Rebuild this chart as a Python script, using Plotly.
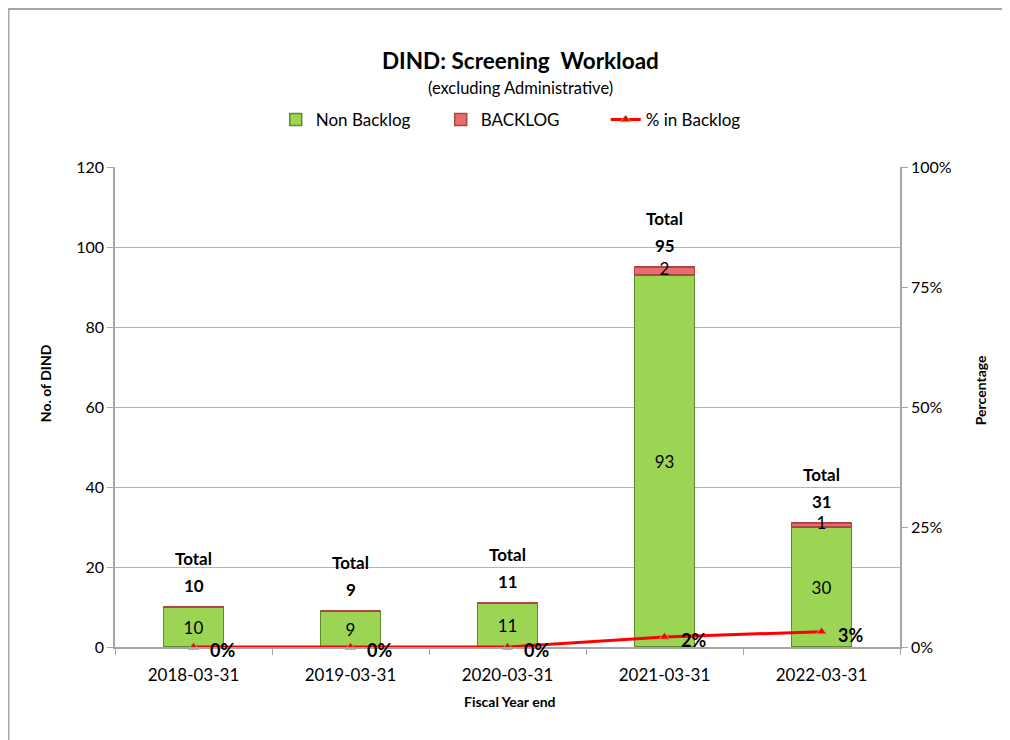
import plotly.graph_objects as go

years = ["2018-03-31", "2019-03-31", "2020-03-31", "2021-03-31", "2022-03-31"]
non_backlog = [10, 9, 11, 93, 30]
backlog = [0, 0, 0, 2, 1]
pct_backlog = [0.0, 0.0, 0.0, 2.1, 3.2]
pct_labels = ["0%", "0%", "0%", "2%", "3%"]

totals = [a + b for a, b in zip(non_backlog, backlog)]
backlog_mid = [n + b / 2.0 for n, b in zip(non_backlog, backlog)]

font_name = "Lato, Open Sans, sans-serif"

fig = go.Figure()

fig.add_trace(go.Bar(
    x=years, y=non_backlog, name="Non Backlog",
    marker=dict(color="#9BD553", line=dict(color="#5E8A2A", width=1.5)),
    text=[str(v) for v in non_backlog], textposition="inside",
    insidetextanchor="middle", textangle=0,
    textfont=dict(size=17, color="black", family=font_name),
    width=0.38,
))

fig.add_trace(go.Bar(
    x=years, y=backlog, name="BACKLOG",
    marker=dict(color="#E86D6D", line=dict(color="#B04545", width=1.5)),
    width=0.38, textposition="none",
))

# backlog value labels (overflow the thin segment, like the original)
fig.add_trace(go.Scatter(
    x=[x for x, b in zip(years, backlog) if b],
    y=[m for m, b in zip(backlog_mid, backlog) if b],
    text=[str(b) for b in backlog if b],
    mode="text", textposition="middle center",
    textfont=dict(size=17, color="black", family=font_name),
    showlegend=False, hoverinfo="skip", cliponaxis=False,
))

fig.add_trace(go.Scatter(
    x=years, y=pct_backlog, name="% in Backlog", yaxis="y2",
    mode="lines+markers",
    line=dict(color="#FF0000", width=3),
    marker=dict(symbol="triangle-up", size=9, color="#FF0000",
                line=dict(color="#9BBB59", width=1)),
    cliponaxis=False,
))

annotations = [
    dict(text="<b>DIND: Screening  Workload</b>", xref="paper", yref="paper",
         x=0.517, y=1.222, xanchor="center", yanchor="middle",
         showarrow=False, font=dict(size=22.5)),
    dict(text="(excluding Administrative)", xref="paper", yref="paper",
         x=0.517, y=1.165, xanchor="center", yanchor="middle",
         showarrow=False, font=dict(size=16.5)),
    dict(text="<b>No. of DIND</b>", xref="paper", yref="paper",
         x=-0.089, y=0.55, textangle=-90, xanchor="center", yanchor="middle",
         showarrow=False, font=dict(size=14)),
    dict(text="<b>Percentage</b>", xref="paper", yref="paper",
         x=1.102, y=0.535, textangle=-90, xanchor="center", yanchor="middle",
         showarrow=False, font=dict(size=14)),
    dict(text="<b>Fiscal Year end</b>", xref="paper", yref="paper",
         x=0.503, y=-0.1125, xanchor="center", yanchor="middle",
         showarrow=False, font=dict(size=14)),
]

# "Total" labels above each stack
for yr, t in zip(years, totals):
    annotations.append(dict(text="<b>%d</b>" % t, x=yr, y=t, xref="x", yref="y",
                            yshift=22, showarrow=False, yanchor="middle",
                            font=dict(size=17)))
    annotations.append(dict(text="<b>Total</b>", x=yr, y=t, xref="x", yref="y",
                            yshift=49, showarrow=False, yanchor="middle",
                            font=dict(size=17)))

# percent labels next to the line markers
for yr, p, lab in zip(years, pct_backlog, pct_labels):
    annotations.append(dict(text="<b>%s</b>" % lab, x=yr, y=p, xref="x", yref="y2",
                            xanchor="left", yanchor="middle", xshift=14, yshift=-3,
                            showarrow=False, font=dict(size=18)))

fig.update_layout(
    width=1010, height=740,
    barmode="stack",
    plot_bgcolor="white", paper_bgcolor="white",
    font=dict(family=font_name, size=16, color="black"),
    margin=dict(l=107, r=118, t=159, b=101, autoexpand=False),
    legend=dict(
        orientation="h", x=0.52, xanchor="center", xref="paper",
        y=1.098, yanchor="middle", font=dict(size=17),
        traceorder="normal", entrywidth=120,
    ),
    xaxis=dict(
        type="category", automargin=False,
        showline=True, linecolor="#A6A6A6", linewidth=1.5,
        ticks="outside", tickson="boundaries", ticklen=6, tickcolor="#A6A6A6",
        tickfont=dict(size=17), ticklabelstandoff=12,
        showgrid=False,
    ),
    yaxis=dict(
        automargin=False,
        range=[0, 120], dtick=20,
        showline=True, linecolor="#A6A6A6", linewidth=1.5,
        ticks="outside", ticklen=6, tickcolor="#A6A6A6",
        showgrid=True, gridcolor="#B3B3B3", gridwidth=1.2,
        zeroline=False, tickfont=dict(size=16),
    ),
    yaxis2=dict(
        automargin=False,
        overlaying="y", side="right",
        range=[0, 100], dtick=25, ticksuffix="%",
        showline=True, linecolor="#A6A6A6", linewidth=1.5,
        ticks="outside", ticklen=6, tickcolor="#A6A6A6",
        showgrid=False, zeroline=False, tickfont=dict(size=16),
    ),
    annotations=annotations,
    shapes=[dict(
        type="rect", xref="paper", yref="paper",
        x0=-0.1357, x1=1.2, y0=-0.25, y1=1.329,
        line=dict(color="#A6A6A6", width=2), fillcolor="rgba(0,0,0,0)",
        layer="below",
    )],
)

fig.write_html("out.html")
